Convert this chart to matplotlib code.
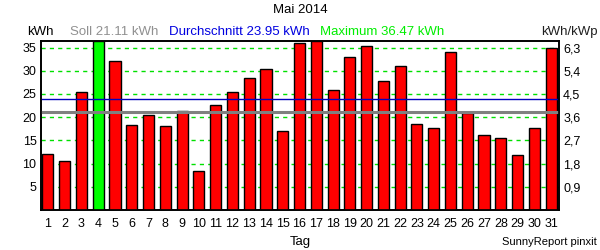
import matplotlib
matplotlib.use("Agg")
import matplotlib.pyplot as plt

plt.rcParams['font.family'] = ['Liberation Sans', 'DejaVu Sans']

days = list(range(1, 32))
energy_kwh = [12.0, 10.5, 25.5, 36.47, 32.1, 18.4, 20.5, 18.0, 21.4, 8.5,
              22.6, 25.4, 28.4, 30.3, 17.1, 35.9, 36.3, 25.8, 33.0, 35.4,
              27.8, 31.0, 18.5, 17.6, 34.0, 20.9, 16.1, 15.5, 11.8, 17.6, 35.0]
soll = 21.11
average = 23.95
maximum = 36.47
kwp = 35 / 6.3
left_ticks = [5, 10, 15, 20, 25, 30, 35]
right_labels = ["0,9", "1,8", "2,7", "3,6", "4,5", "5,4", "6,3"]

fig = plt.figure(figsize=(6, 2.5), dpi=100)
ax = fig.add_axes([40.7/600, 1 - 210/250, (559 - 40.7)/600, (210 - 40.7)/250])

colors = ['#00ff00' if v == maximum else '#ff0000' for v in energy_kwh]
ax.bar(days, energy_kwh, width=0.66, color=colors, edgecolor='black', linewidth=1.0, zorder=3)

for t in left_ticks:
    ax.axhline(t, color='#00e000', linestyle=(0, (3, 3)), linewidth=1.0, zorder=2)
ax.axhline(average, color='#0000c0', linewidth=1.0, zorder=4)
ax.axhline(soll, color='#808080', linewidth=2.2, zorder=4)

ax.set_xlim(0.57, 31.47)
ax.set_ylim(0, maximum)
ax.set_xticks(days)
ax.set_xticklabels([str(d) for d in days])
ax.set_yticks(left_ticks)
ax.tick_params(axis='both', length=0, labelsize=9, pad=6)
ax.tick_params(axis='y', pad=3)

ax2 = ax.twinx()
ax2.set_ylim(0, maximum)
ax2.set_yticks(left_ticks)
ax2.set_yticklabels(right_labels)
ax2.tick_params(axis='y', length=0, labelsize=9, pad=3)

for a in (ax, ax2):
    for s in a.spines.values():
        s.set_linewidth(1.2)
        s.set_color('black')

fig.text(0.5, 1 - 10/250, "Mai 2014", ha='center', va='center', fontsize=9.5)
fig.text(27/600, 1 - 32/250, "kWh", ha='left', va='center', fontsize=9.5)
fig.text(70/600, 1 - 32/250, "Soll 21.11 kWh", ha='left', va='center', fontsize=9.5, color='#909090')
fig.text(169/600, 1 - 32/250, "Durchschnitt 23.95 kWh", ha='left', va='center', fontsize=9.5, color='#0000e0')
fig.text(320/600, 1 - 32/250, "Maximum 36.47 kWh", ha='left', va='center', fontsize=9.5, color='#00ee00')
fig.text(598/600, 1 - 32/250, "kWh/kWp", ha='right', va='center', fontsize=9.5, color='#202020')
fig.text(300/600, 1 - 242/250, "Tag", ha='center', va='center', fontsize=9.5)
fig.text(597/600, 1 - 242/250, "SunnyReport pinxit", ha='right', va='center', fontsize=8)

fig.savefig("out.png", dpi=100, facecolor='white')
